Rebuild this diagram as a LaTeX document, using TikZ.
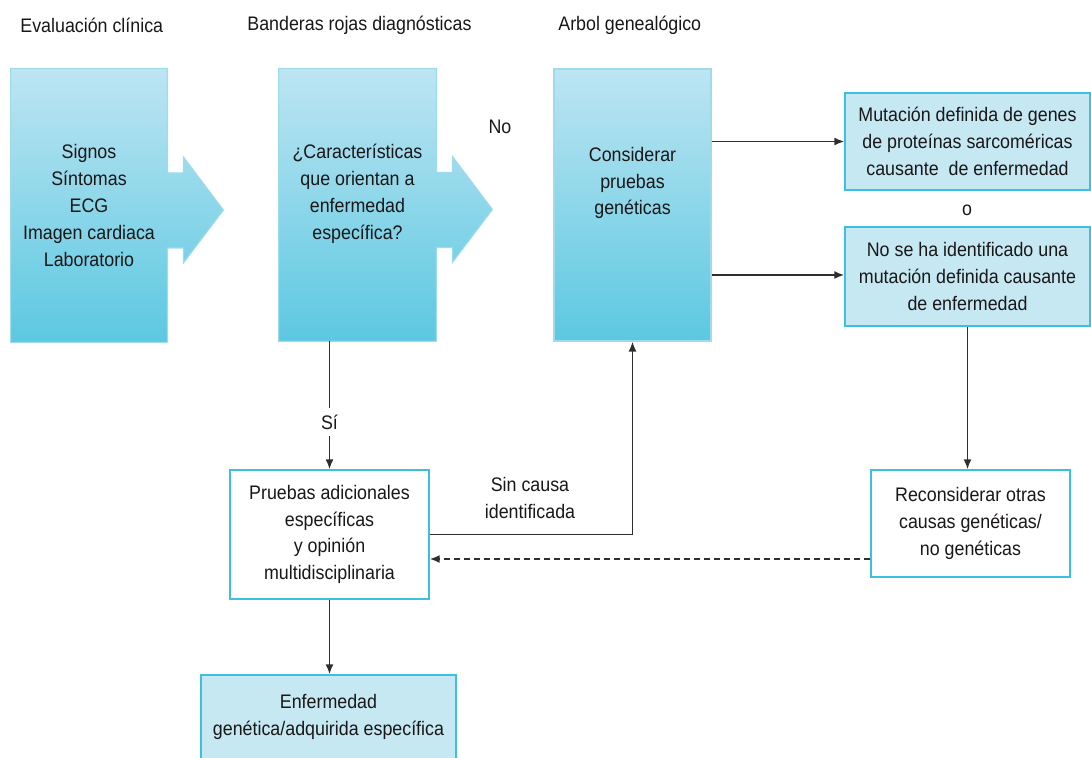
\documentclass[tikz,border=0pt]{standalone}
\usepackage{fontspec}
\setmainfont{Liberation Sans}[FakeStretch=0.91]
\usepackage{xcolor}
\usetikzlibrary{calc,arrows.meta,positioning,backgrounds}
\definecolor{gradtop}{HTML}{BDE5F2}
\definecolor{gradbot}{HTML}{5CC8E1}
\definecolor{lightfill}{HTML}{C5E8F3}
\definecolor{cyanedge}{HTML}{3DC0E0}
\definecolor{softedge}{HTML}{9FDBEC}
\definecolor{ink}{HTML}{1A1718}
\definecolor{wire}{HTML}{2E2E2E}

\begin{document}
\begin{tikzpicture}
[x=0.5pt, y=-0.5pt, >={Latex[length=5pt,width=4pt]}, wire/.style={draw=wire, line width=0.8pt},
every node/.style={text=ink, font=\fontsize{9.8}{13.4}\selectfont, align=center}]
% Define styles for boxes and labels
\tikzstyle{gradbox} = [rectangle, inner sep=0pt]
\tikzstyle{lightbox} = [draw=cyanedge, fill=lightfill, line width=0.7pt, rectangle, inner sep=0pt]
\tikzstyle{whitebox} = [draw=cyanedge, fill=white, line width=0.7pt, rectangle, inner sep=0pt]
\tikzstyle{heading} = [anchor=west, inner sep=0pt]

\useasboundingbox (0,0) rectangle (1091,758);

% Headings
\node [heading] (h1) at (20,25) {Evaluación clínica};
\node [heading] (h2) at (247,25) {Banderas rojas diagnósticas};
\node [heading] (h3) at (558,25) {Arbol genealógico};

% Nodes placement
\node [gradbox, minimum width=78pt, minimum height=136.5pt] (clin) at (89,205.5)
  {Signos\\Síntomas\\ECG\\Imagen cardiaca\\Laboratorio};
\node [gradbox, minimum width=78.5pt, minimum height=136pt,
  label={[yshift=5.5pt]center:{¿Características\\que orientan a\\enfermedad\\específica?}}] (flags) at (357.5,205) {};
\node [gradbox, draw=softedge, line width=0.6pt, top color=gradtop, bottom color=gradbot,
  minimum width=78.5pt, minimum height=136pt,
  label={[yshift=11pt]center:{Considerar\\pruebas\\genéticas}}] (gen) at (632.5,205) {};
\node (no) at (500,127) {No};

\node [lightbox, minimum width=122.5pt, minimum height=48.5pt] (mut) at (967.5,141.5)
  {Mutación definida de genes\\de proteínas sarcoméricas\\causante \ de enfermedad};
\node (or) at (967,210) {o};
\node [lightbox, minimum width=122.5pt, minimum height=49.5pt] (nomut) at (967.5,276.5)
  {No se ha identificado una\\mutación definida causante\\de enfermedad};
\node [whitebox, minimum width=99.5pt, minimum height=53.5pt] (recon) at (970.5,523.5)
  {Reconsiderar otras\\causas genéticas/\\no genéticas};
\node [whitebox, minimum width=99.5pt, minimum height=64.5pt] (extra) at (329.5,534.5)
  {Pruebas adicionales\\específicas\\y opinión\\multidisciplinaria};
\node [lightbox, minimum width=127.5pt, minimum height=42pt] (disease) at (328.5,717)
  {Enfermedad\\genética/adquirida específica};

% Shaded block arrows behind the first two boxes
\begin{pgfonlayer}{background}
\foreach \b in {clin,flags}
  \shade [top color=gradtop, bottom color=gradbot, draw=softedge, line width=0.6pt]
    (\b.north west) -- (\b.north east) -- ($(\b.east)+(0,-32.5)$) -- ($(\b.east)+(16,-32.5)$)
    -- ($(\b.east)+(16,-48.5)$) -- ($(\b.east)+(56,4.5)$) -- ($(\b.east)+(16,57.5)$)
    -- ($(\b.east)+(16,42.5)$) -- ($(\b.east)+(0,42.5)$) -- (\b.south east) -- (\b.south west) -- cycle;
\end{pgfonlayer}

% Draw edges
\draw [wire,->] (mut.west -| gen.east) -- (mut.west);
\draw [wire,->] ([yshift=0.75pt]nomut.west -| gen.east) -- ([yshift=0.75pt]nomut.west);
\draw [wire,->] (nomut.south) -- (nomut.south |- recon.north);
\draw [wire,->] (extra.north |- flags.south) -- node[pos=0.63, fill=white, inner sep=3.5pt] (yes) {Sí} (extra.north);
\draw [wire,->] (extra.south) -- (extra.south |- disease.north);
\draw [wire,->] (extra.east) -| (gen.south);
\node (nocause) at (530,498) {Sin causa\\identificada};
\draw [wire,->,dash pattern=on 3pt off 2pt] ([yshift=-17.75pt]recon.west) -- ([yshift=-17.75pt]recon.west -| extra.east);
\end{tikzpicture}
\end{document}
